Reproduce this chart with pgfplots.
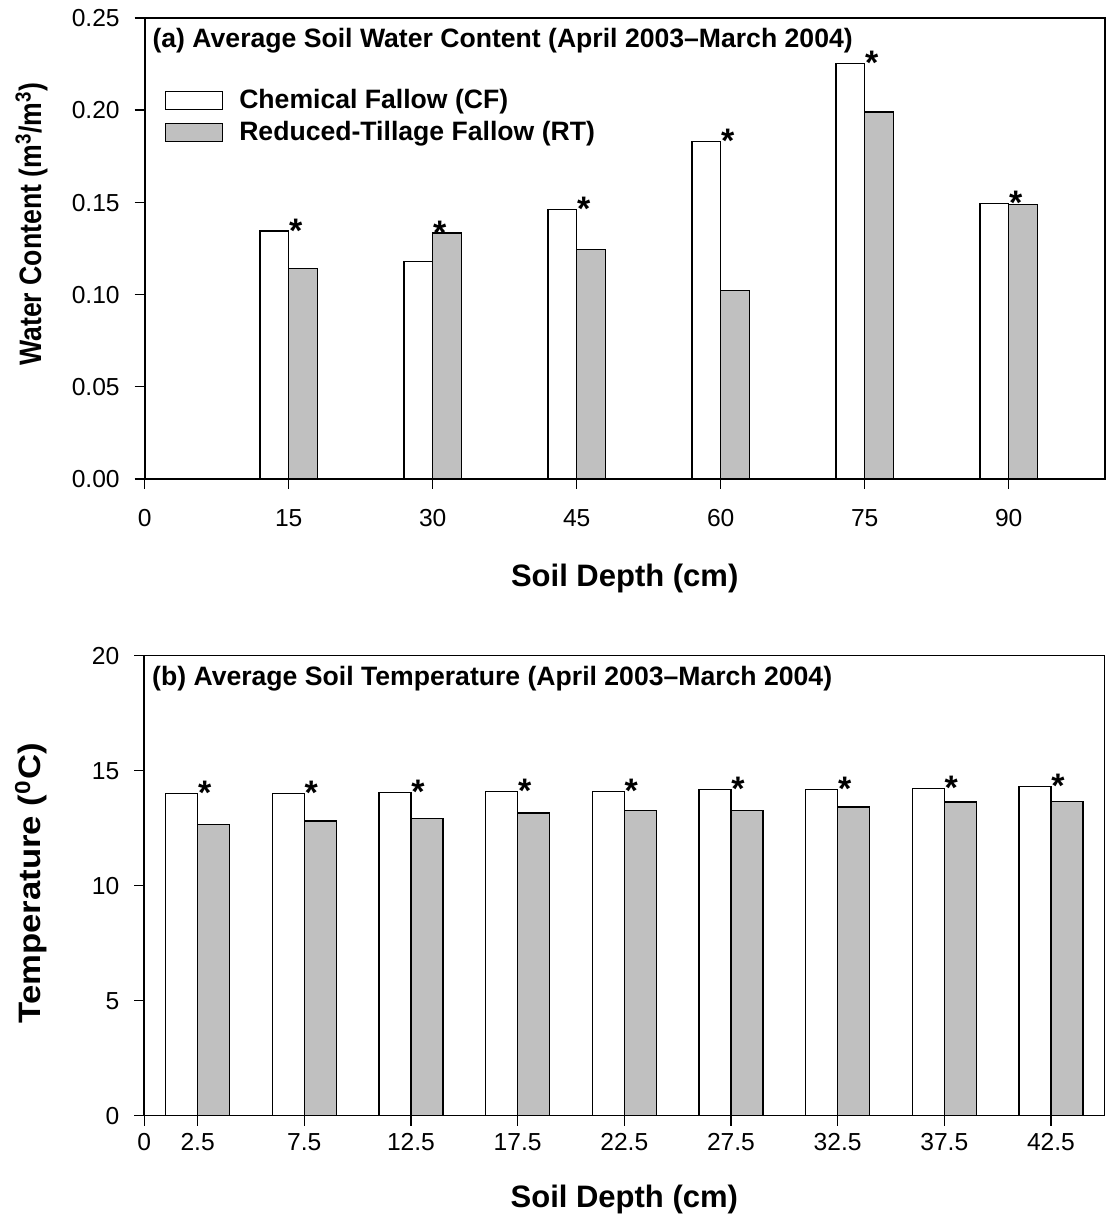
\documentclass[border=0pt]{standalone}
\usepackage{pgfplots}
\pgfplotsset{compat=1.18}
\usepackage{fontspec}
\setmainfont{Liberation Sans}
\definecolor{rtgray}{RGB}{192,192,192}

\begin{document}
\begin{tikzpicture}
\path[use as bounding box] (0,0) rectangle (555pt,613pt);
\pgfplotsset{
 myaxis/.style={
  scale only axis, width=480pt, anchor=south west,
  axis line style={line width=0.8pt},
  tick pos=left, tick align=outside, major tick length=5pt,
  every tick/.style={black, line width=0.7pt},
  tick label style={font=\fontsize{12.3}{14}\selectfont, text height=8.8pt, text depth=0pt},
  yticklabel style={xshift=-4pt},
  label style={font=\bfseries\fontsize{15.5}{18}\selectfont},
  ylabel style={anchor=center},
  xlabel style={anchor=center},
  clip=false,
 },
 cfbar/.style={ybar, bar shift=0pt, fill=white, draw=black, line width=0.6pt},
 rtbar/.style={ybar, bar shift=0pt, fill=rtgray, draw=black, line width=0.6pt},
 stars/.style={draw=none, mark=none, nodes near coords={*},
   nodes near coords style={anchor=base, inner sep=0pt, xshift=3.5pt, yshift=-5.6pt,
   font=\bfseries\fontsize{17}{17}\selectfont}},
}

% ---------- Panel (a) ----------
\begin{axis}[myaxis, at={(72.35pt,373.5pt)}, height=230.5pt,
  xmin=0, xmax=100, ymin=0, ymax=0.25,
  bar width=3,
  xtick={0,15,30,45,60,75,90}, xticklabels={0,15,30,45,60,75,90},
  xticklabel style={yshift=-6.5pt},
  ytick={0,0.05,0.10,0.15,0.20,0.25}, yticklabels={0.00,0.05,0.10,0.15,0.20,0.25},
  xlabel={Soil Depth (cm)},
  ylabel={\scalebox{0.86}[1]{Water Content (m\textsuperscript{3}/m\textsuperscript{3})}},
  xlabel style={at={(axis description cs:0.5,-0.215)}},
  ylabel style={at={(axis description cs:-0.118,0.553)}},
  legend style={draw=none, fill=none, at={(axis description cs:0.0208,0.846)}, anchor=north west,
    inner sep=0pt, row sep=5pt, font=\bfseries\fontsize{13.3}{16}\selectfont,
    nodes={inner xsep=8pt, inner ysep=0pt}},
  legend image code/.code={\draw[#1, line width=0.6pt] (0pt,-4.5pt) rectangle (28.5pt,4.5pt);},
  legend cell align=left,
]
\addplot[cfbar] coordinates {(13.5,0.1345) (28.5,0.1181) (43.5,0.1463) (58.5,0.1831) (73.5,0.2252) (88.5,0.1495)};
\addlegendentry{Chemical Fallow (CF)}
\addplot[rtbar] coordinates {(16.5,0.1143) (31.5,0.1334) (46.5,0.1246) (61.5,0.1021) (76.5,0.1990) (91.5,0.1488)};
\addlegendentry{Reduced-Tillage Fallow (RT)}
\addplot[stars, forget plot] coordinates {(15,0.1345) (30,0.1334) (45,0.1463) (60,0.1831) (75,0.2252) (90,0.1495)};
\node[anchor=west, inner sep=0pt, font=\bfseries\fontsize{13.3}{16}\selectfont]
  at (axis description cs:0.0078,0.95) {(a) Average Soil Water Content (April 2003–March 2004)};
\end{axis}

% ---------- Panel (b) ----------
\begin{axis}[myaxis, at={(72.15pt,55.15pt)}, height=230pt,
  xmin=0, xmax=45, ymin=0, ymax=20,
  bar width=1.5,
  xtick={0,2.5,7.5,12.5,17.5,22.5,27.5,32.5,37.5,42.5},
  xticklabels={0,2.5,7.5,12.5,17.5,22.5,27.5,32.5,37.5,42.5},
  ytick={0,5,10,15,20}, yticklabels={0,5,10,15,20},
  xlabel={Soil Depth (cm)},
  ylabel={\scalebox{1.12}[1]{Temperature (\textsuperscript{0}C)}},
  xlabel style={at={(axis description cs:0.5,-0.183)}},
  ylabel style={at={(axis description cs:-0.118,0.505)}},
]
\addplot[cfbar] coordinates {(1.75,14.02) (6.75,14.02) (11.75,14.06) (16.75,14.10) (21.75,14.10) (26.75,14.19) (31.75,14.17) (36.75,14.23) (41.75,14.32)};
\addplot[rtbar] coordinates {(3.25,12.67) (8.25,12.81) (13.25,12.91) (18.25,13.16) (23.25,13.28) (28.25,13.28) (33.25,13.42) (38.25,13.64) (43.25,13.65)};
\addplot[stars] coordinates {(2.5,14.02) (7.5,14.02) (12.5,14.06) (17.5,14.10) (22.5,14.10) (27.5,14.19) (32.5,14.17) (37.5,14.23) (42.5,14.32)};
\node[anchor=west, inner sep=0pt, font=\bfseries\fontsize{13.3}{16}\selectfont]
  at (axis description cs:0.0078,0.949) {(b) Average Soil Temperature (April 2003–March 2004)};
\end{axis}
\end{tikzpicture}
\end{document}
